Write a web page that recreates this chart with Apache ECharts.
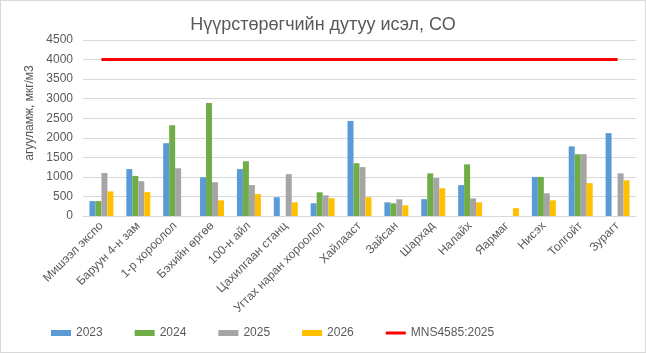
<!DOCTYPE html>
<html>
<head>
<meta charset="utf-8">
<script src="https://cdn.jsdelivr.net/npm/echarts@6/dist/echarts.min.js"></script>
<style>
  html, body { margin: 0; padding: 0; background: #fff; }
  #chart { width: 644px; height: 351px; border: 1px solid #d9d9d9; }
</style>
</head>
<body>
<div id="chart"></div>
<script>
// станцууд
const stations = ['Мишээл экспо', 'Баруун 4-н зам', '1-р хороолол', 'Бэхийн өргөө', '100-н айл',
  'Цахилгаан станц', 'Угтах наран хороолол', 'Хайлааст', 'Зайсан', 'Шархад', 'Налайх',
  'Яармаг', 'Нисэх', 'Толгойт', 'Зурагт'];

// жил бүрийн утга (мкг/м3), хоосон бол '-'
const v2023 = [380, 1200, 1860, 990, 1200, 480, 325, 2430, 350, 430, 790, '-', 1000, 1780, 2120];
const v2024 = [380, 1025, 2320, 2890, 1400, '-', 606, 1350, 324, 1090, 1320, '-', 1000, 1580, '-'];
const v2025 = [1100, 890, 1220, 862, 790, 1070, 529, 1250, 427, 970, 450, '-', 580, 1580, 1090];
const v2026 = [630, 610, '-', 400, 560, 350, 453, 480, 273, 710, 350, 200, 400, 840, 910];

// стандарт MNS4585:2025
const limitValue = 4000;
const limit = stations.map(() => limitValue);

const yTicks = { min: 0, max: 4500, interval: 500 };

const textColor = '#595959';
const font = 'Liberation Sans';

const chart = echarts.init(document.getElementById('chart'));

function barSeries(name, data, color) {
  return {
    name: name,
    type: 'bar',
    data: data,
    barGap: '0%',
    barCategoryGap: '35%',
    itemStyle: { color: color },
  };
}

chart.setOption({
  animation: false,
  textStyle: { fontFamily: font },
  title: {
    text: 'Нүүрстөрөгчийн дутуу исэл, СО',
    left: 'center',
    top: 10,
    textStyle: { color: textColor, fontSize: 18, fontWeight: 'normal', fontFamily: font },
  },
  grid: { left: 82, right: 9, top: 39, bottom: 136 },
  legend: {
    left: 45,
    top: 321,
    itemWidth: 20,
    itemHeight: 6,
    itemGap: 32,
    textStyle: { color: textColor, fontSize: 12, fontFamily: font },
    data: [
      { name: '2023', icon: 'rect' },
      { name: '2024', icon: 'rect' },
      { name: '2025', icon: 'rect' },
      { name: '2026', icon: 'rect' },
      // нимгэн шугам: M цэгүүд нь хүрээг 20x6 болгоно
      { name: 'MNS4585:2025', icon: 'path://M0,0 M0,1.5 L20,1.5 L20,4.5 L0,4.5 Z M20,6' },
    ],
  },
  xAxis: {
    type: 'category',
    data: stations,
    axisTick: { show: false },
    axisLine: { lineStyle: { color: '#d9d9d9' } },
    axisLabel: {
      rotate: 45,
      interval: 0,
      color: textColor,
      fontSize: 12,
      margin: 8,
    },
  },
  yAxis: {
    type: 'value',
    min: yTicks.min,
    max: yTicks.max,
    interval: yTicks.interval,
    name: 'агууламж, мкг/м3',
    nameLocation: 'middle',
    nameGap: 39,
    nameTextStyle: { color: textColor, fontSize: 12, padding: [0, 0, 0, 30] },
    axisLine: { show: false },
    axisTick: { show: false },
    axisLabel: { color: textColor, fontSize: 12, margin: 10, formatter: (v) => String(v) },
    splitLine: { lineStyle: { color: '#d9d9d9' } },
  },
  series: [
    barSeries('2023', v2023, '#5B9BD5'),
    barSeries('2024', v2024, '#70AD47'),
    barSeries('2025', v2025, '#A5A5A5'),
    barSeries('2026', v2026, '#FFC000'),
    {
      name: 'MNS4585:2025',
      type: 'line',
      data: limit,
      symbol: 'none',
      itemStyle: { color: '#FF0000' },
      lineStyle: { color: '#FF0000', width: 3 },
    },
  ],
});
</script>
</body>
</html>
